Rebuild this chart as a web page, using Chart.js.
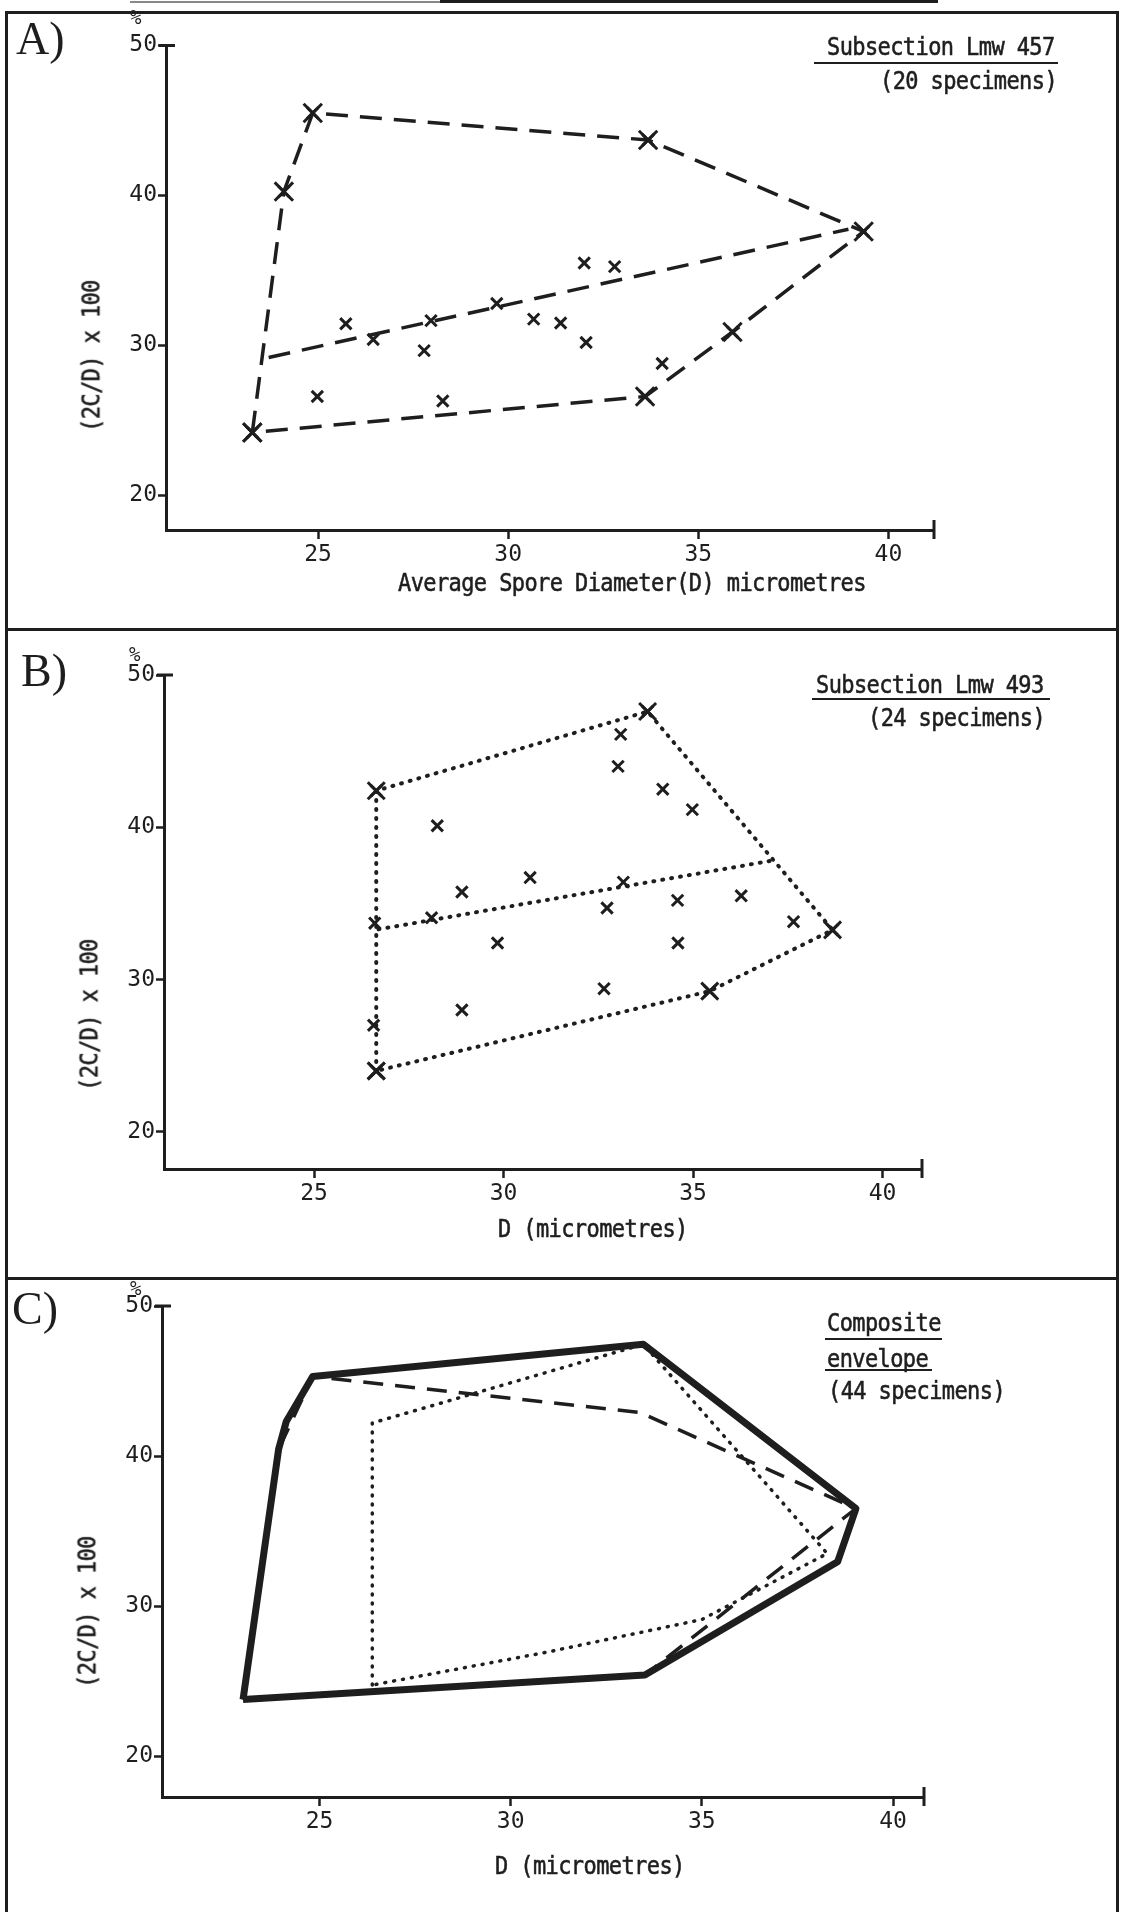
<!DOCTYPE html>
<html>
<head>
<meta charset="utf-8">
<script src="https://cdn.jsdelivr.net/npm/chart.js@4.4.0/dist/chart.umd.min.js"></script>
<style>
  body { margin: 0; background: #fff; }
  #page { position: relative; width: 1125px; height: 1912px; overflow: hidden; color: #1e1e1e;
          font-family: "DejaVu Sans Mono", monospace; }
  .panel { position: absolute; left: 0; width: 1125px; }
  .panel canvas { position: absolute; left: 0; top: 0; }
  .t { position: absolute; white-space: nowrap; font-size: 22px; letter-spacing: -0.6px; line-height: 1;
       -webkit-text-stroke: 0.5px #1e1e1e; transform: scaleY(1.12); transform-origin: left top; }
  .ytitle { transform: translate(-50%, -50%) rotate(-90deg) scaleY(1.12); transform-origin: center; }
  .lett { position: absolute; font-family: "Liberation Serif", serif; font-size: 46px; line-height: 1; }
  .pct { position: absolute; font-size: 19px; line-height: 1; }
  .rule { position: absolute; background: #1e1e1e; }
</style>
</head>
<body>
<div id="page">
  <!-- marco -->
  <div class="rule" style="left:130px;top:1px;width:310px;height:2px;background:#888"></div>
  <div class="rule" style="left:440px;top:0;width:498px;height:3px"></div>
  <div class="rule" style="left:5px;top:11px;width:1114px;height:3px"></div>
  <div class="rule" style="left:5px;top:11px;width:3px;height:1901px"></div>
  <div class="rule" style="left:1116px;top:11px;width:3px;height:1901px"></div>
  <div class="rule" style="left:5px;top:628px;width:1114px;height:3px"></div>
  <div class="rule" style="left:5px;top:1277px;width:1114px;height:3px"></div>

  <div class="panel" style="top:0;height:634px"><canvas id="chartA" width="1125" height="634"></canvas></div>
  <div class="panel" style="top:634px;height:645px"><canvas id="chartB" width="1125" height="645"></canvas></div>
  <div class="panel" style="top:1279px;height:633px"><canvas id="chartC" width="1125" height="633"></canvas></div>

  <!-- textos A -->
  <div class="lett" style="left:16px;top:16px">A)</div>
  <div class="pct" style="left:130px;top:8px">%</div>
  <div class="t" style="left:827px;top:35px">Subsection Lmw 457</div>
  <div class="rule" style="left:814px;top:62px;width:244px;height:2px"></div>
  <div class="t" style="left:880px;top:69px">(20 specimens)</div>
  <div class="t ytitle" style="left:92px;top:356px">(2C/D) x 100</div>
  <div class="t" style="left:398px;top:571px">Average Spore Diameter(D) micrometres</div>

  <!-- textos B -->
  <div class="lett" style="left:21px;top:648px">B)</div>
  <div class="pct" style="left:129px;top:645px">%</div>
  <div class="t" style="left:816px;top:673px">Subsection Lmw 493</div>
  <div class="rule" style="left:812px;top:698px;width:238px;height:2px"></div>
  <div class="t" style="left:868px;top:706px">(24 specimens)</div>
  <div class="t ytitle" style="left:90px;top:1015px">(2C/D) x 100</div>
  <div class="t" style="left:498px;top:1217px">D (micrometres)</div>

  <!-- textos C -->
  <div class="lett" style="left:12px;top:1286px">C)</div>
  <div class="pct" style="left:130px;top:1279px">%</div>
  <div class="t" style="left:827px;top:1311px">Composite</div>
  <div class="rule" style="left:825px;top:1338px;width:117px;height:2px"></div>
  <div class="t" style="left:827px;top:1347px">envelope</div>
  <div class="rule" style="left:825px;top:1369px;width:107px;height:2px"></div>
  <div class="t" style="left:828px;top:1379px">(44 specimens)</div>
  <div class="t ytitle" style="left:88px;top:1612px">(2C/D) x 100</div>
  <div class="t" style="left:495px;top:1854px">D (micrometres)</div>
</div>

<script>
  // ejes
  let xTicks = [25, 30, 35, 40]
  let xTickLabels = ["25", "30", "35", "40"]
  let yTicks = [20, 30, 40, 50]
  let yTickLabels = ["20", "30", "40", "50"]

  // A) Subsection Lmw 457 - 20 especimenes
  let diamA = [24.86, 24.1, 23.27, 25.73, 26.45, 24.98, 27.97, 27.79, 28.28, 29.7,
               30.67, 31.38, 32.0, 32.8, 32.05, 34.05, 35.9, 33.6, 33.68, 39.35]
  let ratioA = [45.5, 40.26, 24.2, 31.45, 30.4, 26.6, 31.66, 29.66, 26.3, 32.8,
                31.76, 31.5, 35.5, 35.26, 30.2, 28.8, 30.9, 26.6, 43.7, 37.6]
  let envDiamA = [23.27, 24.1, 24.86, 33.68, 39.35, 35.9, 33.6, 23.27]
  let envRatioA = [24.2, 40.26, 45.5, 43.7, 37.6, 30.9, 26.6, 24.2]
  let lineDiamA = [23.7, 38.95]
  let lineRatioA = [29.2, 37.75]

  // B) Subsection Lmw 493 - 24 especimenes
  let diamB = [26.64, 28.25, 28.9, 30.7, 26.6, 28.1, 29.84, 28.9, 26.57, 26.64, 33.8, 33.09,
               33.02, 34.2, 34.98, 33.16, 32.73, 34.59, 36.27, 37.65, 38.68, 34.6, 32.65, 35.44]
  let ratioB = [42.4, 40.1, 35.75, 36.7, 33.7, 34.06, 32.4, 28.0, 27.0, 24.0, 47.6, 46.1,
                44.0, 42.5, 41.16, 36.4, 34.7, 35.2, 35.5, 33.8, 33.26, 32.4, 29.4, 29.24]
  let envDiamB = [26.64, 26.64, 33.8, 38.68, 35.44, 26.64]
  let envRatioB = [24.0, 42.4, 47.6, 33.26, 29.24, 24.0]
  let lineDiamB = [26.7, 37.06]
  let lineRatioB = [33.3, 37.8]

  // C) envolvente compuesta - 44 especimenes
  let compDiam = [23.0, 23.93, 24.13, 24.82, 33.47, 39.03, 38.55, 33.51, 23.0]
  let compRatio = [23.77, 40.45, 42.3, 45.3, 47.45, 36.5, 32.95, 25.4, 23.77]
  let compDiamA = [23.0, 23.93, 24.82, 33.38, 39.03, 33.51, 23.0]
  let compRatioA = [23.77, 40.45, 45.3, 42.9, 36.5, 25.4, 23.77]
  let compDiamB = [26.38, 26.38, 33.47, 38.28, 35.0, 30.9, 26.38]
  let compRatioB = [24.73, 42.2, 47.45, 33.5, 29.1, 26.9, 24.73]

  const tinta = "#1e1e1e"

  function puntos(xs, ys) {
    return xs.map((x, i) => ({ x: x, y: ys[i] }))
  }

  // tapitas al final de los ejes
  const tapas = {
    id: "tapas",
    afterDraw(chart) {
      const a = chart.chartArea
      const ctx = chart.ctx
      ctx.save()
      ctx.strokeStyle = tinta
      ctx.lineWidth = 3
      ctx.beginPath()
      ctx.moveTo(a.left - 7, a.top); ctx.lineTo(a.left + 9, a.top)
      ctx.moveTo(a.right, a.bottom - 10); ctx.lineTo(a.right, a.bottom + 9)
      ctx.stroke()
      ctx.restore()
    }
  }

  function armarGrafico(id, area, rango, datasets) {
    const canvas = document.getElementById(id)
    const W = canvas.width, H = canvas.height
    return new Chart(canvas.getContext("2d"), {
      type: "scatter",
      data: { datasets: datasets },
      plugins: [tapas],
      options: {
        responsive: false,
        animation: false,
        events: [],
        layout: { padding: { left: 0, top: area.top, right: W - area.right, bottom: 0 } },
        plugins: { legend: { display: false }, tooltip: { enabled: false } },
        scales: {
          x: {
            type: "linear", min: rango.xmin, max: rango.xmax,
            afterBuildTicks: s => { s.ticks = xTicks.map(v => ({ value: v })) },
            afterFit: s => { s.height = H - area.bottom },
            ticks: { callback: (v, i) => xTickLabels[i], color: tinta, padding: 2, maxRotation: 0,
                     font: { family: "DejaVu Sans Mono", size: 23 } },
            grid: { drawOnChartArea: false, drawTicks: true, tickLength: 9, tickWidth: 2.5, tickColor: tinta },
            border: { display: true, width: 3, color: tinta }
          },
          y: {
            type: "linear", min: rango.ymin, max: rango.ymax,
            afterBuildTicks: s => { s.ticks = yTicks.map(v => ({ value: v })) },
            afterFit: s => { s.width = area.left },
            ticks: { callback: (v, i) => yTickLabels[i], color: tinta, padding: 1,
                     font: { family: "DejaVu Sans Mono", size: 23 } },
            grid: { drawOnChartArea: false, drawTicks: true, tickLength: 8, tickWidth: 2.5, tickColor: tinta },
            border: { display: true, width: 3, color: tinta }
          }
        }
      }
    })
  }

  // A
  armarGrafico("chartA", { left: 166, top: 45.5, right: 934, bottom: 530 },
    { xmin: 21, xmax: 41.2, ymin: 17.7, ymax: 50 }, [
    { data: puntos(diamA, ratioA), pointStyle: "crossRot", pointRadius: 8, pointBorderWidth: 3,
      pointBorderColor: tinta, showLine: false },
    { data: puntos(envDiamA, envRatioA), showLine: true, borderColor: tinta, borderWidth: 3.5,
      borderDash: [22, 12], pointStyle: "crossRot", pointRadius: 13, pointBorderWidth: 3, pointBorderColor: tinta },
    { data: puntos(lineDiamA, lineRatioA), showLine: true, borderColor: tinta, borderWidth: 3.5,
      borderDash: [22, 12], pointRadius: 0 }
  ])

  // B
  armarGrafico("chartB", { left: 164, top: 41, right: 922, bottom: 535 },
    { xmin: 21.04, xmax: 41.04, ymin: 17.56, ymax: 50 }, [
    { data: puntos(diamB, ratioB), pointStyle: "crossRot", pointRadius: 8, pointBorderWidth: 3,
      pointBorderColor: tinta, showLine: false },
    { data: puntos(envDiamB, envRatioB), showLine: true, borderColor: tinta, borderWidth: 4,
      borderDash: [1, 8], borderCapStyle: "round", pointStyle: "crossRot", pointRadius: 12,
      pointBorderWidth: 3, pointBorderColor: tinta },
    { data: puntos(lineDiamB, lineRatioB), showLine: true, borderColor: tinta, borderWidth: 4,
      borderDash: [1, 8], borderCapStyle: "round", pointRadius: 0 }
  ])

  // C
  armarGrafico("chartC", { left: 162, top: 27, right: 924, bottom: 518 },
    { xmin: 20.88, xmax: 40.81, ymin: 17.27, ymax: 50 }, [
    { data: puntos(compDiam, compRatio), showLine: true, borderColor: tinta, borderWidth: 7,
      borderJoinStyle: "round", pointRadius: 0 },
    { data: puntos(compDiamA, compRatioA), showLine: true, borderColor: tinta, borderWidth: 3.5,
      borderDash: [20, 12], pointRadius: 0 },
    { data: puntos(compDiamB, compRatioB), showLine: true, borderColor: tinta, borderWidth: 3.5,
      borderDash: [1, 8], borderCapStyle: "round", pointRadius: 0 }
  ])
</script>
</body>
</html>
